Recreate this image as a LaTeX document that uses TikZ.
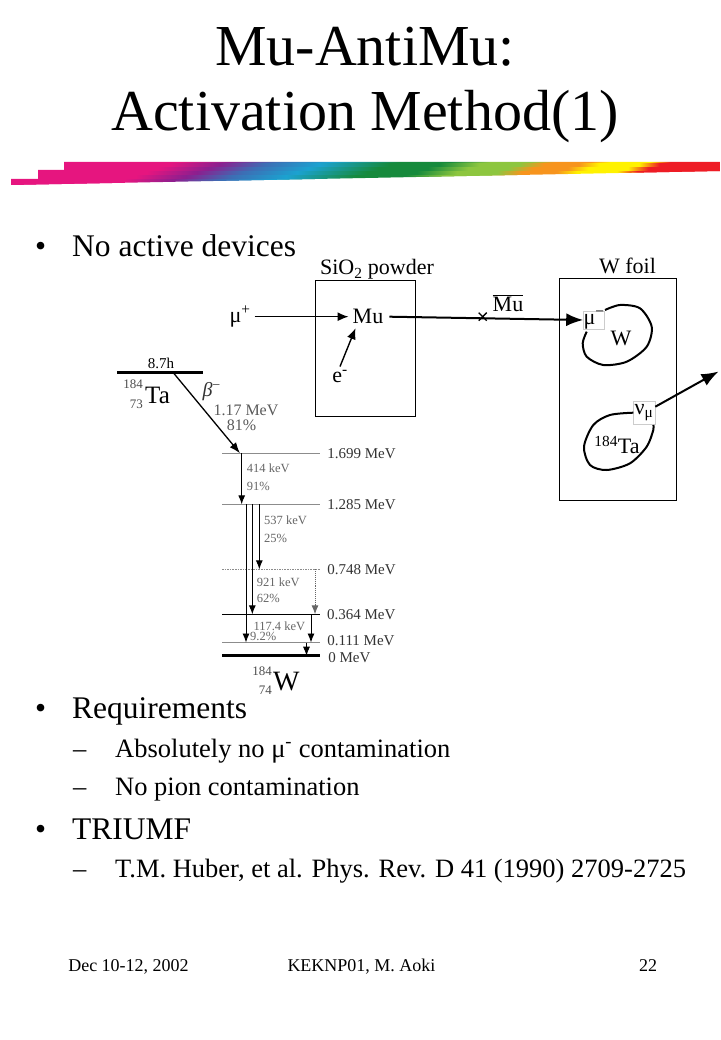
\documentclass[tikz,border=0pt]{standalone}
\usepackage{fontspec}
\setmainfont{Liberation Serif}
\usetikzlibrary{arrows.meta}
\definecolor{barpink}{RGB}{230,21,127}
\definecolor{barpurple}{RGB}{139,31,143}
\definecolor{barblue}{RGB}{61,109,180}
\definecolor{barcyan}{RGB}{27,162,208}
\definecolor{bargreen}{RGB}{22,138,60}
\definecolor{barlime}{RGB}{141,198,63}
\definecolor{barorange}{RGB}{247,148,29}
\definecolor{baryellow}{RGB}{255,242,0}
\definecolor{barred}{RGB}{238,28,37}
\pgfdeclarehorizontalshading{rainbowbar}{100bp}{color(0bp)=(barpink); color(45.83bp)=(barpink); color(46.99bp)=(barpurple); color(48.03bp)=(barblue); color(49.31bp)=(barcyan); color(50.93bp)=(bargreen); color(52.08bp)=(bargreen); color(53.01bp)=(barlime); color(53.94bp)=(barlime); color(54.51bp)=(barorange); color(55.32bp)=(barorange); color(55.79bp)=(baryellow); color(56.71bp)=(baryellow); color(57.18bp)=(barred); color(100bp)=(barred)}

\begin{document}
\begin{tikzpicture}[x=1pt,y=-1pt,
  titletxt/.style={font=\fontsize{58}{60}\selectfont,anchor=base,inner sep=0pt},
  bodytxt/.style={font=\fontsize{31.5}{34}\selectfont,anchor=base west,inner sep=0pt},
  subtxt/.style={font=\fontsize{26.5}{28}\selectfont,anchor=base west,inner sep=0pt},
  foottxt/.style={font=\fontsize{18}{20}\selectfont,anchor=base,inner sep=0pt},
  labtxt/.style={font=\fontsize{22}{24}\selectfont,inner sep=4pt},
  lvltxt/.style={font=\fontsize{15}{16}\selectfont,text=black!80,anchor=west,inner sep=0pt,xshift=6.5pt},
  gamtxt/.style={font=\fontsize{12.5}{14}\selectfont,text=black!60,anchor=west,inner sep=0pt},
  tagbox/.style={draw=black!20,line width=0.6pt,inner sep=0pt},
  beam/.style={line width=1.8pt,->,>={Latex[length=11pt,width=9pt]}},
  bigbeam/.style={line width=2pt,->,>={Latex[length=17pt,width=13pt]}},
  gam/.style={line width=0.9pt,->,>={Latex[length=9pt,width=7pt]}},
  lvlgray/.style={line width=1.6pt,black!45}]
\useasboundingbox (0,0) rectangle (720,1040);

% title
\node[titletxt] (t1) at (365,66) {Mu-AntiMu:};
\node[titletxt] (t2) at (365,131) {Activation Method(1)};

% rainbow bar
\begin{scope}
\clip (11,185)--(11,179)--(38,179)--(38,170)--(64,170)--(64,162)--(720,162)--(720,171)--cycle;
\foreach \i in {0,...,6}
  \shade[shading=rainbowbar] ({-720-11*\i},{160+4*\i}) rectangle ({1440-11*\i},{164.5+4*\i});
\end{scope}

% bullets
\node[bodytxt] (d1) at (35,256.7) {•};
\node[bodytxt] (b1) at (72,256.7) {No active devices};
\node[bodytxt] (d2) at (35,718) {•};
\node[bodytxt] (b2) at (72,718) {Requirements};
\node[subtxt] (s1) at (73,757) {–};
\node[subtxt] (b21) at (115,757) {Absolutely no μ\textsuperscript{-} contamination};
\node[subtxt] (s2) at (73,795.5) {–};
\node[subtxt] (b22) at (115,795.5) {No pion contamination};
\node[bodytxt] (d3) at (35,839.5) {•};
\node[bodytxt] (b3) at (72,839.5) {TRIUMF};
\node[subtxt] (s3) at (73,877) {–};
\node[subtxt] (b31) at (115,877) {T.M. Huber, et al. Phys. Rev. D 41 (1990) 2709-2725};

% footer
\node[foottxt] (f1) at (128.5,971) {Dec 10-12, 2002};
\node[foottxt] (f2) at (361.5,971) {KEKNP01, M. Aoki};
\node[foottxt] (f3) at (648,971) {22};

% SiO2 target
\node[draw,line width=1.5pt,minimum width=100pt,minimum height=136pt] (sio) at (365.5,348.7) {};
\node[labtxt,anchor=base,inner sep=0pt] (siol) at (377,275) {SiO\textsubscript{2} powder};
\node[labtxt] (mup) at (240,316.7) {μ\textsuperscript{+}};
\node[labtxt] (mu) at (368,316.7) {Mu};
\node[labtxt] (el) at (340,376.7) {e\textsuperscript{-}};
\draw[beam,line width=1.4pt] (mup.east) -- (mu.west);
\draw[beam,line width=1.4pt] (el.north) -- ([xshift=7pt]mu.south west);

% W foil
\node[draw,line width=1.5pt,minimum width=117pt,minimum height=222pt] (wf) at (618,389.5) {};
\node[labtxt,anchor=base,inner sep=0pt] (wfl) at (627.5,273) {W foil};
\node[labtxt,tagbox,minimum width=20pt,minimum height=17pt] (mum) at (594,320) {μ\textsuperscript{−}};
\node[labtxt] (wt) at (621,338.3) {W};
\node[labtxt,tagbox,minimum width=22pt,minimum height=23pt] (num) at (644,413) {ν\textsubscript{μ}};
\node[labtxt] (ta) at (617,445) {\textsuperscript{184}Ta};
\coordinate (xm) at (482.7,316.7);
\coordinate (nuout) at (718.5,371.5);
\node[labtxt,inner sep=0pt] (mubar) at (508,303) {$\overline{\hbox{Mu}}$};
\draw[bigbeam] ([xshift=2pt]mu.east) -- (mum.west);
\draw[line width=1.3pt] (xm) +(-4,-4) -- +(4,4) (xm) +(-4,4) -- +(4,-4);
\draw[bigbeam] (num) -- (nuout);
\draw[line width=2pt] plot[smooth] coordinates {(605,310) (620,305) (640,308.3) (651.7,326.7) (646.7,346.7) (626.7,361.7) (603.3,365) (586.7,356.7) (582.7,343.3) (586.7,331.7)};
\draw[line width=2pt] plot[smooth] coordinates {(633.3,412.7) (610,415) (593.3,425) (584,446.7) (590,465) (606.7,470) (630,463.3) (646.7,446.7) (653.3,430) (653.3,425)};

% decay scheme
\coordinate (taL) at (117.3,372.7);
\coordinate (taR) at (202.7,372.7);
\draw[line width=3.5pt] (taL) -- (taR);
\node[font=\fontsize{15}{16}\selectfont,anchor=base,inner sep=0pt] (hl) at (161,368) {8.7h};
\node[font=\fontsize{25}{26}\selectfont,anchor=base west,inner sep=0pt] (tan) at (145,403.3) {Ta};
\node[font=\fontsize{13}{14}\selectfont,text=black!70,anchor=base east,inner sep=0pt] (tam) at (143,388) {184};
\node[font=\fontsize{13}{14}\selectfont,text=black!70,anchor=base east,inner sep=0pt] (taz) at (143,408) {73};
\node[font=\fontsize{20}{22}\selectfont,text=black!80,inner sep=0pt] (bt) at (211.7,391.7) {\textit{β}\textsuperscript{−}};
\node[font=\fontsize{16}{18}\selectfont,text=black!65,anchor=west,inner sep=0pt] (be) at (213.3,410) {1.17 MeV};
\node[font=\fontsize{16}{18}\selectfont,text=black!65,anchor=west,inner sep=0pt] (bp) at (226.7,425) {81\%};

\coordinate (lvA) at (222,453.3);
\coordinate (lvB) at (222,504.3);
\coordinate (lvC) at (222,569.3);
\coordinate (lvD) at (222,614.3);
\coordinate (lvE) at (222,642.5);
\coordinate (lvF) at (222,655.7);
\draw[lvlgray] (lvA) -- ++(98,0) node[lvltxt] (mA) {1.699 MeV};
\draw[lvlgray] (lvB) -- ++(98,0) node[lvltxt] (mB) {1.285 MeV};
\draw[lvlgray,densely dotted] (lvC) -- ++(98,0) node[lvltxt] (mC) {0.748 MeV};
\draw[line width=1.3pt] (lvD) -- ++(98,0) node[lvltxt] (mD) {0.364 MeV};
\draw[lvlgray] (lvE) -- ++(98,0) node[lvltxt,yshift=1.5pt] (mE) {0.111 MeV};
\draw[line width=3.5pt] (lvF) -- ++(98,0) node[lvltxt,yshift=-1.5pt] (mF) {0 MeV};

\draw[gam,line width=1.3pt,>={Latex[length=11pt,width=8pt]}] ([xshift=56pt]taL) -- ([xshift=18pt]lvA);
\draw[gam] ([xshift=19.7pt]lvA) -- ([xshift=19.7pt]lvB);
\draw[gam] ([xshift=24pt]lvB) -- ([xshift=24pt]lvE);
\draw[gam] ([xshift=30.3pt]lvB) -- ([xshift=30.3pt]lvD);
\draw[gam] ([xshift=37.3pt]lvB) -- ([xshift=37.3pt]lvC);
\draw[gam,black!60,densely dotted] ([xshift=93pt]lvC) -- ([xshift=93pt]lvD);
\draw[gam] ([xshift=89pt]lvD) -- ([xshift=89pt]lvE);
\draw[gam] ([xshift=84.5pt]lvE) -- ([xshift=84.5pt]lvF);

\node[gamtxt] (g1) at (246.7,468) {414 keV};
\node[gamtxt] (g1p) at (246.7,486.7) {91\%};
\node[gamtxt] (g2) at (264,520) {537 keV};
\node[gamtxt] (g2p) at (264,538.3) {25\%};
\node[gamtxt] (g3) at (256.7,582.7) {921 keV};
\node[gamtxt] (g3p) at (256.7,598.3) {62\%};
\node[gamtxt] (g4) at (253.3,626) {117.4 keV};
\node[gamtxt] (g4p) at (250,636.7) {9.2\%};

\node[font=\fontsize{28}{30}\selectfont,anchor=base west,inner sep=0pt] (wn) at (273,690) {W};
\node[font=\fontsize{13}{14}\selectfont,text=black!70,anchor=base east,inner sep=0pt] (wm) at (272,675) {184};
\node[font=\fontsize{13}{14}\selectfont,text=black!70,anchor=base east,inner sep=0pt] (wz) at (272,694) {74};
\end{tikzpicture}
\end{document}
